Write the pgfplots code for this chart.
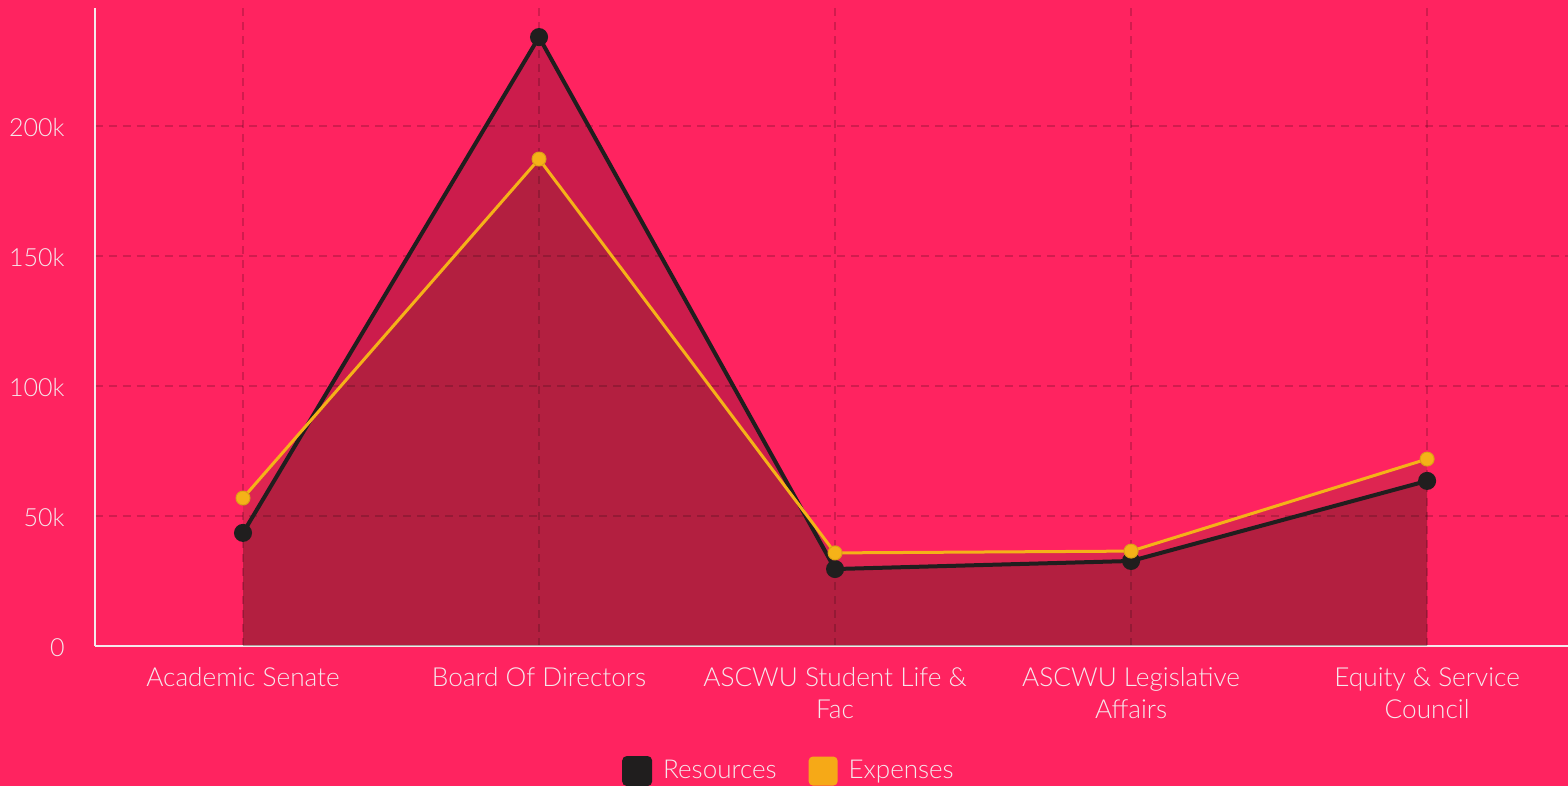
\documentclass[border=0pt]{standalone}
\usepackage{fontspec}
\setmainfont{Lato Light}
\usepackage{pgfplots}
\pgfplotsset{compat=1.18}
\definecolor{bg}{RGB}{255,35,96}
\definecolor{txt}{RGB}{245,232,236}
\definecolor{res}{RGB}{32,30,30}
\definecolor{exp}{RGB}{245,178,24}
\definecolor{expfill}{RGB}{60,50,10}
\begin{document}
\begin{tikzpicture}
\fill[bg] (-47.5pt,-70pt) rectangle (736.5pt,323pt);
\path[use as bounding box] (-47.5pt,-70pt) rectangle (736.5pt,323pt);
\begin{axis}[
  at={(0,0)}, anchor=south west,
  scale only axis, width=736.5pt, height=319pt,
  xmin=-0.5, xmax=4.476, ymin=0, ymax=245385,
  axis x line*=bottom, axis y line*=left,
  axis line style={draw=txt, line width=1pt, -},
  xtick={0,1,2,3,4},
  xticklabels={{Academic Senate},{Board Of Directors},{ASCWU Student Life \&\\Fac},{ASCWU Legislative\\Affairs},{Equity \& Service\\Council}},
  ytick={0,50000,100000,150000,200000},
  yticklabels={0,50k,100k,150k,200k},
  scaled y ticks=false,
  major tick length=0pt,
  grid=major,
  major grid style={black, opacity=0.18, line width=0.8pt, dash pattern=on 4pt off 3pt},
  xticklabel style={text=txt, align=center, anchor=north, inner sep=0pt, yshift=-10.5pt, font=\fontsize{13.1}{16}\selectfont},
  yticklabel style={text=txt, anchor=east, inner sep=0pt, xshift=-15pt, yshift=-1pt, font=\fontsize{12.5}{14}\selectfont},
  /pgf/number format/assume math mode=true,
  legend style={draw=none, fill=none, at={(0.4718,-0.196)}, anchor=center, legend columns=2,
    /tikz/every odd column/.append style={column sep=3.5pt},
    /tikz/every even column/.append style={column sep=14pt}, font=\fontsize{13}{15}\selectfont, text=txt},
  clip=false,
]
\addplot[fill=black, fill opacity=0.2, draw=none, forget plot] coordinates {(0,43500) (1,234200) (2,29600) (3,32700) (4,63500)} \closedcycle;
\addplot[fill=expfill, fill opacity=0.17, draw=none, forget plot] coordinates {(0,56900) (1,187300) (2,35800) (3,36500) (4,71900)} \closedcycle;
\addplot[res, line width=2pt, mark=*, mark size=3.5pt, mark options={fill=res, draw=res},
  legend image code/.code={\fill[res, rounded corners=1.5pt] (0pt,-6.5pt) rectangle (13pt,6.5pt);}]
  coordinates {(0,43500) (1,234200) (2,29600) (3,32700) (4,63500)};
\addlegendentry{Resources}
\addplot[exp, line width=1.5pt, mark=*, mark size=3.5pt, mark options={fill=exp, draw=exp!90!black, line width=0.5pt},
  legend image code/.code={\fill[exp!95!red, rounded corners=1.5pt] (0pt,-6.5pt) rectangle (13pt,6.5pt);}]
  coordinates {(0,56900) (1,187300) (2,35800) (3,36500) (4,71900)};
\addlegendentry{Expenses}
\end{axis}
\end{tikzpicture}
\end{document}
